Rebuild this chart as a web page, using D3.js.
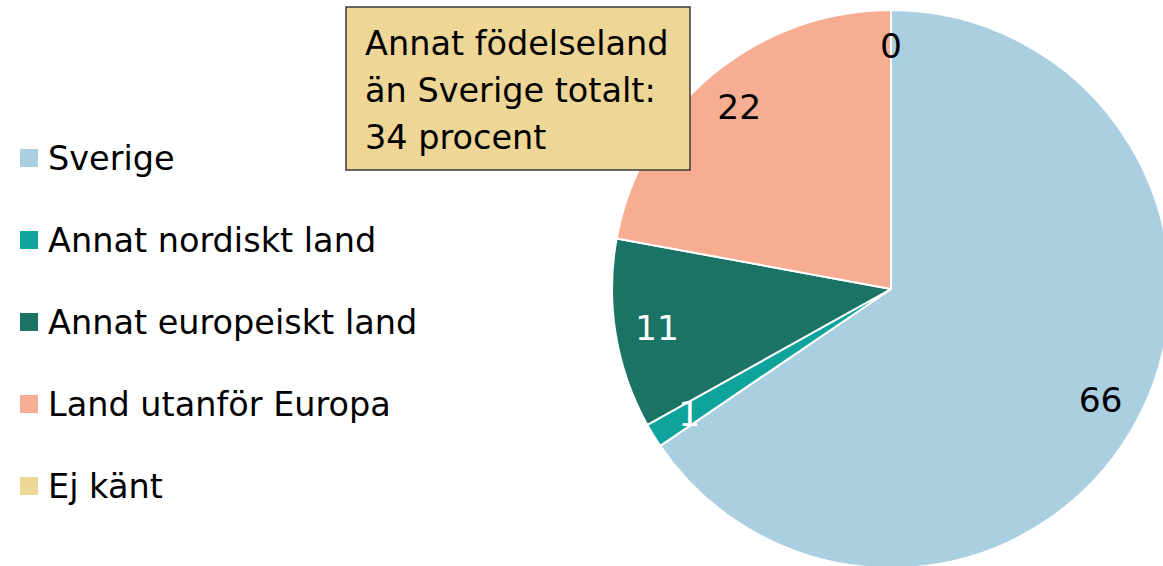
<!DOCTYPE html>
<html>
<head>
<meta charset="utf-8">
<script src="https://cdn.jsdelivr.net/npm/d3@7"></script>
<style>
  html, body { margin: 0; padding: 0; background: #fff; }
  svg { display: block; }
  text { font-family: "DejaVu Sans", "Liberation Sans", Arial, sans-serif; }
</style>
</head>
<body>
<div id="chart"></div>
<script>
const categories = ["Sverige", "Annat nordiskt land", "Annat europeiskt land", "Land utanför Europa", "Ej känt"];
const shares = [65.5, 1.4, 11.0, 22.1, 0];
const labels = ["66", "1", "11", "22", "0"];
const colors = ["#A9CFE1", "#0EA39B", "#1B7366", "#F6AD91", "#EDD696"];
const labelColors = ["#000", "#fff", "#fff", "#000", "#000"];
const noteLines = ["Annat födelseland", "än Sverige totalt:", "34 procent"];

const W = 1163, H = 566;
const svg = d3.select("#chart").append("svg").attr("width", W).attr("height", H);

const cx = 891, cy = 289, R = 279;
const FS = 33.5;
const data = categories.map((c, i) => ({ cat: c, value: shares[i], label: labels[i], color: colors[i], lc: labelColors[i] }));

const pie = d3.pie().value(d => d.value).sort(null);
const arcs = pie(data);
const arc = d3.arc().innerRadius(0).outerRadius(R);
const labelArc = d3.arc().innerRadius(R * 0.85).outerRadius(R * 0.85);

const g = svg.append("g").attr("transform", `translate(${cx},${cy})`);
g.selectAll("path").data(arcs).join("path")
  .attr("d", arc)
  .attr("fill", d => d.data.color)
  .attr("stroke", "#fff")
  .attr("stroke-width", 2)
  .attr("stroke-linejoin", "round");

g.selectAll("text.lbl").data(arcs).join("text")
  .attr("class", "lbl")
  .attr("transform", d => {
    let [x, y] = labelArc.centroid(d);
    if (d.data.value === 0) { x = 0; y = -R * 0.87; }
    return `translate(${x},${y})`;
  })
  .attr("text-anchor", "middle")
  .attr("dominant-baseline", "central")
  .attr("font-size", FS + 1)
  .attr("fill", d => d.data.lc)
  .text(d => d.data.label);

// Legend
const lg = svg.append("g");
const rowY = d3.scalePoint().domain(categories).range([158, 486]);
categories.forEach((c, i) => {
  const y = rowY(c);
  lg.append("rect").attr("x", 20).attr("y", y - 9).attr("width", 18).attr("height", 18).attr("fill", colors[i]);
  lg.append("text").attr("x", 48).attr("y", y).attr("dominant-baseline", "central")
    .attr("font-size", FS).attr("fill", "#000").text(c);
});

// Note box
const note = svg.append("g");
note.append("rect").attr("x", 346).attr("y", 7).attr("width", 344).attr("height", 163)
  .attr("fill", "#EDD696").attr("stroke", "#3a3a3a").attr("stroke-width", 1.5);
noteLines.forEach((t, i) => {
  note.append("text").attr("x", 365).attr("y", 55 + i * 47)
    .attr("font-size", FS).attr("fill", "#000").text(t);
});
</script>
</body>
</html>
